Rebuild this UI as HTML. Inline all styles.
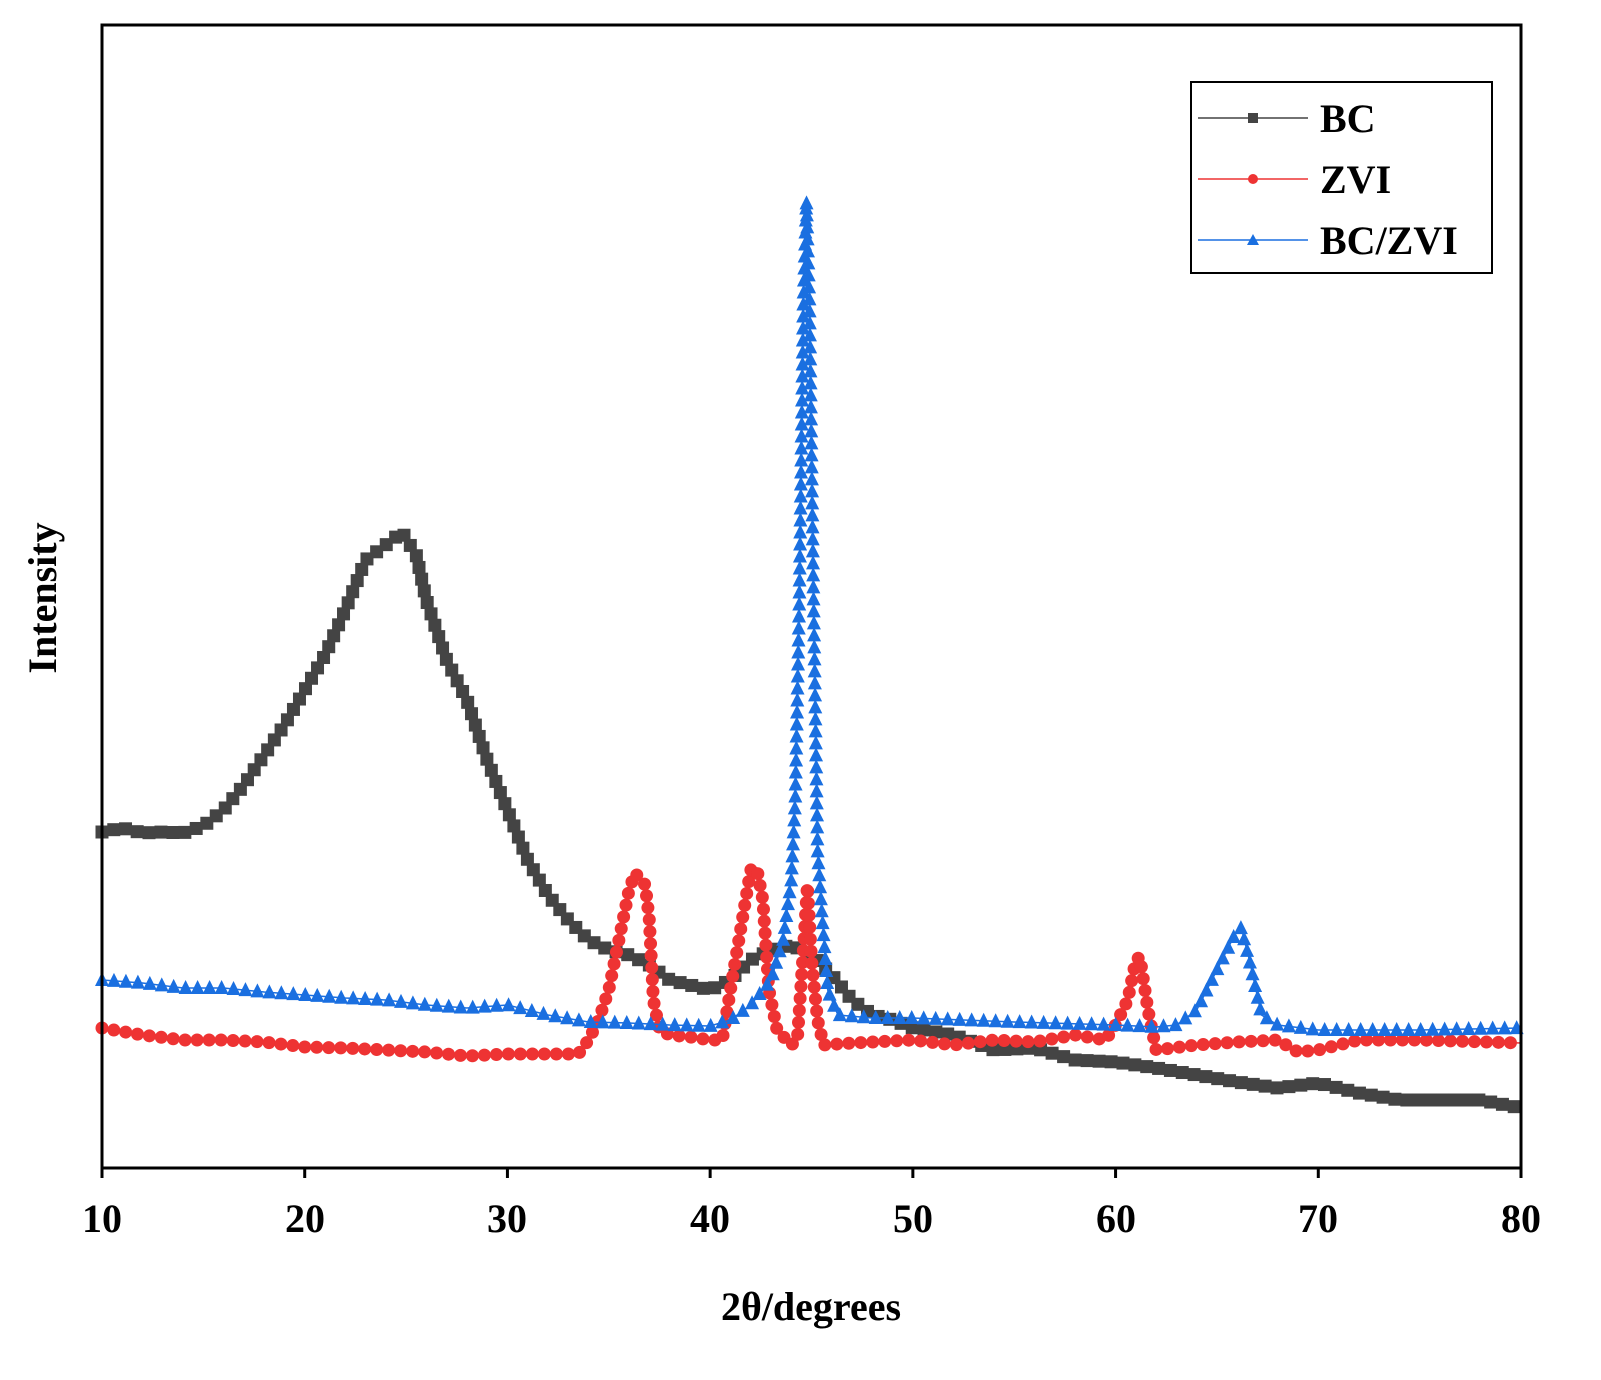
<!DOCTYPE html>
<html><head><meta charset="utf-8"><style>
html,body{margin:0;padding:0;background:#fff}
svg{display:block}
text{font-family:"Liberation Serif",serif;font-weight:bold;fill:#000}
</style></head><body>
<svg id="s" width="1601" height="1380" viewBox="0 0 1601 1380" xmlns="http://www.w3.org/2000/svg">
<rect x="0" y="0" width="1601" height="1380" fill="#fff"/>
<g id="plot"></g>
<rect x="102" y="25" width="1419" height="1143" fill="none" stroke="#000" stroke-width="3"/>
<g id="ticks" stroke="#000" stroke-width="3"></g>
<g font-size="40" text-anchor="middle">
<text x="102" y="1232">10</text><text x="305" y="1232">20</text><text x="507" y="1232">30</text>
<text x="710" y="1232">40</text><text x="913" y="1232">50</text><text x="1116" y="1232">60</text>
<text x="1318" y="1232">70</text><text x="1521" y="1232">80</text>
</g>
<text x="811" y="1320" font-size="40" text-anchor="middle">2θ/degrees</text>
<text transform="translate(56,598) rotate(-90)" font-size="40" text-anchor="middle">Intensity</text>
<rect x="1191" y="82" width="301" height="191" fill="#fff" stroke="#000" stroke-width="2"/>
<line x1="1198" y1="118" x2="1308" y2="118" stroke="#444" stroke-width="1.5"/><rect x="1248" y="113" width="10" height="10" fill="#444"/>
<line x1="1198" y1="179" x2="1308" y2="179" stroke="#ee3333" stroke-width="1.5"/><circle cx="1253" cy="179" r="5" fill="#ee3333"/>
<line x1="1198" y1="240" x2="1308" y2="240" stroke="#1a6fe0" stroke-width="1.5"/><polygon points="1253,234 1259,245 1247,245" fill="#1a6fe0"/>
<g font-size="40"><text x="1320" y="132">BC</text><text x="1320" y="193">ZVI</text><text x="1320" y="254">BC/ZVI</text></g>
</svg>
<script>
var X=function(d){return 102+(d-10)*1419/70};
var BC=[[10,832],[11,828],[12,833],[13,832],[14,833],[15,826],[16,810],[17,785],[18,755],[19,725],[20,690],[21,655],[22,610],[23,560],[24,545],[24.8,532],[25.5,555],[26,600],[27,660],[28,700],[29,760],[30,810],[31,860],[32,895],[33,920],[34,940],[35,950],[36,955],[37,965],[38,980],[39,985],[40,990],[41,980],[42,960],[43,950],[44,945],[45,955],[46,975],[47,1000],[48,1015],[49,1020],[50,1028],[52,1035],[54,1050],[56,1048],[58,1060],[60,1062],[62,1068],[64,1075],[66,1082],[68,1088],[70,1083],[72,1093],[74,1100],[76,1100],[78,1100],[80,1108]];
var ZVI=[[10,1028],[12,1035],[14,1040],[16,1040],[18,1042],[20,1047],[22,1048],[24,1050],[26,1052],[28,1056],[30,1054],[32,1054],[33.5,1054],[34,1040],[34.5,1020],[35,990],[35.5,940],[36,890],[36.3,873],[36.8,885],[37,920],[37.2,1000],[37.5,1030],[38,1035],[39,1037],[40,1040],[40.6,1040],[41,990],[41.5,930],[42,870],[42.3,868],[42.6,900],[42.9,990],[43.3,1030],[44,1045],[44.3,1040],[44.6,950],[44.8,885],[45,960],[45.3,1020],[45.6,1045],[47,1043],[50,1040],[52,1045],[54,1040],[56,1042],[58,1035],[59.5,1040],[60,1025],[60.6,1000],[61,960],[61.2,957],[61.6,1010],[62,1050],[64,1045],[66,1042],[68,1040],[69,1052],[70,1050],[72,1040],[75,1040],[80,1043]];
var BZ=[[10,980],[12,983],[14,988],[16,988],[18,992],[20,995],[22,998],[24,1000],[26,1005],[28,1008],[30,1005],[32,1015],[34,1022],[36,1023],[38,1025],[40,1026],[41,1020],[42,1005],[43,980],[43.6,940],[44,880],[44.2,800],[44.4,600],[44.6,300],[44.75,200],[44.9,300],[45.1,600],[45.3,850],[45.5,910],[45.8,990],[46.3,1015],[48,1018],[50,1018],[55,1022],[60,1025],[62,1027],[63,1025],[64,1010],[65,970],[66,930],[66.2,928],[66.6,960],[67.2,1015],[68,1025],[70,1030],[75,1030],[80,1028]];
var g=document.getElementById('plot'),h='';
function draw(d,col,type,step){
 var pts=d.map(function(p){return X(p[0]).toFixed(1)+','+p[1]}).join(' ');
 h+='<polyline points="'+pts+'" fill="none" stroke="'+col+'" stroke-width="1.5"/>';
 var acc=0;
 for(var i=0;i<d.length-1;i++){
  var x0=X(d[i][0]),y0=d[i][1],x1=X(d[i+1][0]),y1=d[i+1][1];
  var L=Math.hypot(x1-x0,y1-y0);
  while(acc<=L){var t=L?acc/L:0,x=x0+(x1-x0)*t,y=y0+(y1-y0)*t;
   if(type=='s')h+='<rect x="'+(x-6.5)+'" y="'+(y-6.5)+'" width="13" height="13" fill="'+col+'"/>';
   else if(type=='c')h+='<circle cx="'+x+'" cy="'+y+'" r="6.5" fill="'+col+'"/>';
   else h+='<polygon points="'+x+','+(y-8)+' '+(x+7)+','+(y+6)+' '+(x-7)+','+(y+6)+'" fill="'+col+'"/>';
   acc+=step;}
  acc-=L;
 }
}
draw(BC,'#444','s',12);
draw(ZVI,'#ee3333','c',12);
draw(BZ,'#1a6fe0','t',12);
g.innerHTML=h;
var t='';for(var v=10;v<=80;v+=10){var x=X(v);t+='<line x1="'+x+'" y1="1168" x2="'+x+'" y2="1178"/>';}
document.getElementById('ticks').innerHTML=t;
</script>
</body></html>
